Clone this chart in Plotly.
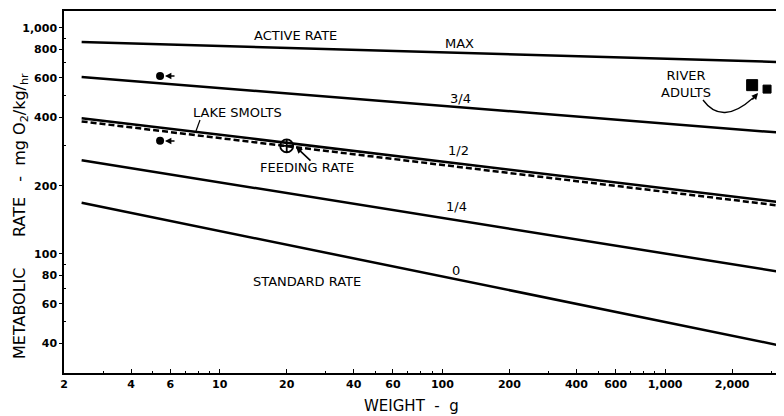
import plotly.graph_objects as go

# ---------------- data ----------------
line_weights = [2.4, 3300]                 # g, line end points
active_max = [865, 705]                   # MAX (active rate)
active_3_4 = [605, 343]                   # 3/4
active_1_2 = [398, 169]                   # 1/2
feeding_rate = [385, 163]                 # dashed feeding-rate line
active_1_4 = [259, 83]                    # 1/4
standard_rate = [168, 39.2]               # 0 (standard rate)

lake_smolts_w = [5.4, 5.4]
lake_smolts_rate = [611, 316]
feeding_pt_w = [20]
feeding_pt_rate = [300]
river_adults_w = [2460, 2870]
river_adults_rate = [557, 535]

x_tickvals = [2, 4, 6, 10, 20, 40, 60, 100, 200, 400, 600, 1000, 2000]
x_ticktext = ["2", "4", "6", "10", "20", "40", "60", "100", "200", "400", "600", "1,000", "2,000"]
x_minor = [3, 5, 7, 8, 9, 30, 50, 70, 80, 90, 300, 500, 700, 800, 900, 3000]
y_tickvals = [40, 60, 80, 100, 200, 400, 600, 800, 1000]
y_ticktext = ["40", "60", "80", "100", "200", "400", "600", "800", "1,000"]
y_minor = [50, 70, 90, 300, 500, 700, 900]

# ---------------- layout helpers ----------------
# The page body has an 8px margin, so the figure is drawn 8px in from the
# window's top-left corner; positions below are given in window pixels.
OFF = 8
W, H = 784 - OFF, 416 - OFF
L, R, T, B = 64 - OFF, 2, 11 - OFF, 43
PW, PH = W - L - R, H - T - B


def px(x):
    return (x - OFF - L) / PW


def py(y):
    return (H - B - (y - OFF)) / PH


FONT = "DejaVu Sans"
BLK = "#000000"

fig = go.Figure()

solid = dict(color=BLK, width=2.5)
for ys in [active_max, active_3_4, active_1_2, active_1_4, standard_rate]:
    fig.add_trace(go.Scatter(x=line_weights, y=ys, mode="lines", line=solid,
                             showlegend=False, hoverinfo="skip"))
fig.add_trace(go.Scatter(x=line_weights, y=feeding_rate, mode="lines",
                         line=dict(color=BLK, width=2.5, dash="6px,3px"),
                         showlegend=False, hoverinfo="skip"))

fig.add_trace(go.Scatter(x=lake_smolts_w, y=lake_smolts_rate, mode="markers",
                         marker=dict(symbol="circle", size=8, color=BLK, opacity=1),
                         showlegend=False))
fig.add_trace(go.Scatter(x=feeding_pt_w, y=feeding_pt_rate, mode="markers",
                         marker=dict(symbol="circle-cross-open", size=13, color=BLK,
                                     line=dict(width=1.8, color=BLK)),
                         showlegend=False))
fig.add_trace(go.Scatter(x=river_adults_w, y=river_adults_rate, mode="markers",
                         marker=dict(symbol="square", size=[11, 8], color=BLK,
                                     opacity=1, line=dict(width=1, color=BLK)),
                         cliponaxis=False, showlegend=False))

ann = []


def label(text, x, y, size=13):
    ann.append(dict(text=text, x=px(x), y=py(y), xref="paper", yref="paper",
                    showarrow=False, xanchor="center", yanchor="middle",
                    font=dict(family=FONT, size=size, color=BLK)))


label("ACTIVE RATE", 295, 36)
label("MAX", 459, 43)
label("3/4", 460, 98)
label("LAKE SMOLTS", 237, 112)
label("1/2", 458, 150)
label("FEEDING RATE", 307, 167)
label("1/4", 457, 207)
label("0", 456, 270)
label("STANDARD RATE", 307, 281)
label("RIVER<br>ADULTS", 686, 84)


def arrow(tx, ty, dx, dy, size=0.8):
    ann.append(dict(text="", x=px(tx), y=py(ty), xref="paper", yref="paper",
                    showarrow=True, ax=dx, ay=dy, axref="pixel", ayref="pixel",
                    arrowhead=2, arrowsize=size, arrowwidth=1.6, arrowcolor=BLK))


arrow(165, 76, 11, 0)
arrow(165, 141, 11, 0)
arrow(296, 147, 16, 15)
arrow(758, 93, -7, 8)

# axis titles
NB = "\u00a0"
ann.append(dict(text=f"METABOLIC{NB*6}RATE{NB*3}-{NB*2}mg{NB}O<sub>2</sub>/kg/<sub>hr</sub>",
                x=px(20), y=py(216), xref="paper", yref="paper", showarrow=False,
                textangle=-90, xanchor="center", yanchor="middle",
                font=dict(family=FONT, size=16, color=BLK)))
ann.append(dict(text=f"WEIGHT{NB*2}-{NB*2}g", x=px(411), y=py(406),
                xref="paper", yref="paper", showarrow=False,
                xanchor="center", yanchor="middle",
                font=dict(family=FONT, size=15, color=BLK)))

shapes = [
    # curved pointer from RIVER ADULTS
    dict(type="path", xref="paper", yref="paper",
         path=f"M {px(703)} {py(100)} Q {px(722)} {py(126)} {px(753)} {py(98)}",
         line=dict(color=BLK, width=1.3)),
    # leader for LAKE SMOLTS
    dict(type="line", xref="paper", yref="paper",
         x0=px(200), y0=py(120), x1=px(196), y1=py(131),
         line=dict(color=BLK, width=1.2)),
]

fig.update_layout(
    width=W, height=H,
    margin=dict(l=L, r=R, t=T, b=B, pad=0),
    paper_bgcolor="white", plot_bgcolor="white",
    annotations=ann, shapes=shapes,
    xaxis=dict(type="log", range=[0.30103, 3.525], showgrid=False, zeroline=False,
               showline=True, linecolor=BLK, linewidth=1.5, mirror=True,
               ticks="inside", ticklen=4, tickwidth=1.2, tickcolor=BLK,
               tickvals=x_tickvals, ticktext=x_ticktext,
               tickfont=dict(family=FONT, size=11, color=BLK, weight="bold"),
               minor=dict(tickvals=x_minor, ticks="inside", ticklen=2.5,
                          tickwidth=1, tickcolor=BLK, showgrid=False)),
    yaxis=dict(type="log", range=[1.472, 3.074], showgrid=False, zeroline=False,
               showline=True, linecolor=BLK, linewidth=1.5,
               ticks="outside", ticklen=3, tickwidth=1.2, tickcolor=BLK,
               tickvals=y_tickvals, ticktext=y_ticktext,
               tickfont=dict(family=FONT, size=11, color=BLK, weight="bold"),
               minor=dict(tickvals=y_minor, ticks="inside", ticklen=2.5,
                          tickwidth=1, tickcolor=BLK, showgrid=False)),
)

fig.write_html("out.html")
